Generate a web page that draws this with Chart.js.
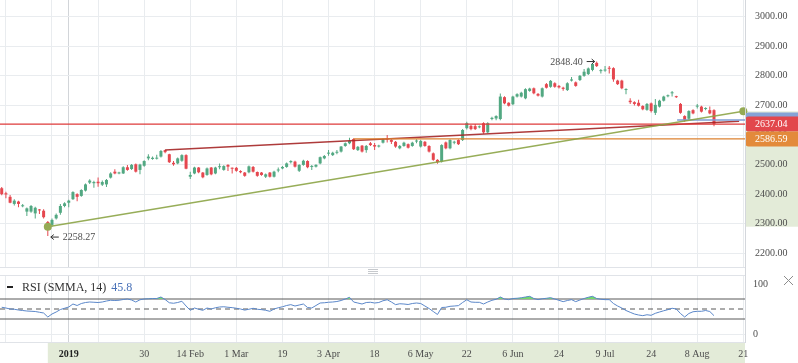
<!DOCTYPE html>
<html>
<head>
<meta charset="utf-8">
<script src="https://cdn.jsdelivr.net/npm/chart.js@4.4.0/dist/chart.umd.min.js"></script>
<style>
  html, body { margin: 0; padding: 0; background: #fff; }
  body { width: 798px; height: 363px; position: relative; overflow: hidden; font-family: 'Liberation Serif', serif; }
  canvas { position: absolute; left: 0; }
  #main { top: 0; }
  #rsi { top: 275px; }
  .hline { position: absolute; left: 0; width: 745px; height: 1px; background: #e0e3e8; z-index: 2; }
  .vsep { position: absolute; left: 745px; top: 0; width: 1px; height: 342px; background: #d4d7dc; z-index: 2; }
  .grip { position: absolute; left: 368px; width: 10px; height: 1px; background: #c6c9cd; }
  #legend { position: absolute; left: 7px; top: 280px; font-size: 12px; line-height: 14px; color: #333; white-space: nowrap; z-index: 3; }
  #legend .dash { display: inline-block; width: 6px; height: 2px; background: #222; vertical-align: middle; margin-right: 9px; position: relative; top: -1px; }
  #legend .val { color: #4a72b8; margin-left: 5px; }
  #close { position: absolute; left: 783px; top: 275px; }
</style>
</head>
<body>
<canvas id="main" width="798" height="267"></canvas>
<canvas id="rsi" width="798" height="88"></canvas>
<div class="hline" style="top:267px"></div>
<div class="hline" style="top:275px"></div>
<div class="hline" style="top:342px"></div>
<div class="vsep"></div>
<div class="grip" style="top:269px"></div>
<div class="grip" style="top:271px"></div>
<div class="grip" style="top:273px"></div>
<div id="legend"><span class="dash"></span>RSI (SMMA, 14)<span class="val">45.8</span></div>
<svg id="close" width="11" height="11"><path d="M1 1 L10 10 M10 1 L1 10" stroke="#8c8c8c" stroke-width="1"/></svg>
<script>
// daily candles, one per trading day (index 0 = first visible bar)
const opens = [2420,2403,2391,2367,2375,2359,2341,2341,2335,2348,2344,2306,2296,2318,2337,2360,2371,2383,2400,2394,
  2412,2439,2437,2442,2432,2433,2456,2476,2470,2470,2491,2485,2501,2482,2496,2521,2519,2520,2527,2549,
  2535,2506,2504,2513,2532,2459,2470,2490,2473,2465,2490,2470,2491,2482,2499,2489,2489,2478,2473,2474,
  2492,2475,2473,2459,2473,2459,2480,2487,2492,2508,2510,2479,2499,2512,2492,2493,2504,2521,2537,2532,
  2540,2544,2563,2572,2586.59,2549,2564,2549,2572,2566,2561,2574,2588,2583,2577,2555,2563,2569,2563,2578,
  2561,2577,2563,2538,2516,2510,2575,2555,2574,2583,2583,2623,2631,2630,2626,2640,2609,2654,2656,2654,
  2728,2709,2704,2730,2730,2724,2749,2758,2739,2730,2772,2763,2775,2766,2760,2752,2784,2778,2786,2800,
  2806,2820,2844,2816,2818,2827,2826,2784,2784,2752,2716,2711,2709,2698,2685,2707,2675,2696,2716,2731,
  2741,2731,2705,2664,2655,2684,2696,2696,2688,2684,2684];
const highs = [2424,2408,2397,2383,2378,2367,2355,2363,2357,2350,2349,2309,2318,2335,2367,2373,2381,2410,2403,2417,
  2436,2450,2445,2456,2446,2451,2474,2484,2476,2494,2499,2502,2504,2503,2515,2535,2527,2533,2549,2550,
  2537,2512,2524,2535,2535,2476,2493,2492,2475,2490,2492,2493,2504,2498,2501,2490,2492,2481,2475,2497,
  2495,2477,2475,2470,2475,2479,2490,2495,2507,2515,2513,2501,2516,2515,2499,2501,2527,2532,2549,2543,
  2549,2563,2575,2591,2589,2563,2566,2566,2576,2573,2567,2588,2600,2586,2580,2566,2577,2571,2577,2586,
  2583,2580,2565,2541,2518,2569,2578,2586,2581,2586,2620,2645,2634,2637,2632,2643,2643,2662,2667,2740,
  2731,2711,2733,2741,2746,2758,2760,2761,2742,2761,2776,2786,2778,2769,2763,2778,2796,2781,2803,2823,
  2828,2843,2848.40,2823,2833,2833,2829,2787,2787,2758,2724,2714,2719,2701,2708,2710,2722,2719,2733,2737,
  2749,2733,2708,2667,2684,2687,2705,2699,2694,2696,2687];
const lows = [2396,2386,2369,2362,2356,2356,2326,2337,2318,2333,2318,2258.27,2290,2314,2330,2356,2356,2380,2376,2391,
  2409,2434,2422,2425,2428,2424,2453,2467,2467,2468,2479,2482,2473,2467,2493,2515,2516,2517,2524,2538,
  2505,2496,2501,2510,2484,2451,2467,2471,2454,2462,2464,2467,2484,2479,2478,2470,2476,2471,2459,2471,
  2473,2459,2462,2455,2456,2456,2474,2484,2489,2504,2490,2475,2496,2488,2482,2490,2501,2518,2530,2529,
  2535,2541,2560,2569,2549,2546,2541,2540,2563,2549,2558,2571,2575,2570,2557,2552,2560,2554,2560,2572,
  2558,2560,2541,2513,2503,2507,2552,2552,2569,2566,2580,2619,2616,2617,2623,2604,2606,2650,2650,2650,
  2704,2696,2701,2727,2727,2721,2746,2738,2730,2727,2757,2760,2760,2757,2750,2749,2781,2763,2783,2797,
  2803,2816,2830,2808,2814,2808,2780,2769,2755,2738,2705,2700,2696,2684,2682,2676,2668,2693,2713,2728,
  2730,2725,2672,2645,2652,2670,2690,2676,2684,2670,2630];
const closes = [2400,2399,2371,2378,2367,2361,2352,2360,2354,2345,2322,2290,2313,2330,2360,2369,2378,2407,2391,2414,
  2433,2446,2441,2437,2441,2448,2470,2470,2473,2491,2482,2499,2476,2500,2512,2527,2523,2523,2546,2542,
  2508,2501,2521,2532,2486,2465,2490,2474,2457,2487,2467,2490,2494,2495,2493,2486,2479,2474,2462,2494,
  2476,2462,2465,2467,2459,2476,2483,2492,2504,2512,2493,2499,2513,2491,2494,2499,2525,2529,2539,2540,
  2542,2561,2572,2580,2552,2560,2544,2563,2566,2561,2564,2585,2585,2577,2561,2563,2574,2557,2574,2581,
  2580,2563,2544,2516,2508,2566,2555,2583,2577,2569,2617,2640,2620,2620,2629,2609,2640,2658,2664,2730,
  2707,2699,2730,2738,2743,2755,2757,2741,2733,2758,2760,2783,2763,2761,2756,2775,2788,2766,2800,2814,
  2825,2840,2833,2819,2821,2824,2788,2772,2758,2755,2711,2705,2699,2687,2705,2681,2702,2716,2730,2734,
  2744,2728,2675,2651,2681,2673,2699,2679,2691,2673,2637.04];

// RSI (SMMA, 14) per bar
const rsiValues = [53.5,52,50,49.5,48,47,46,45.5,45,43.5,42,34,40,44,49,51.5,54,60,57,61,
  63,64,63.5,63,64,66,67.5,67,67.5,69,70,68,64,68.5,70,70.5,71,71,74,69,
  62.5,61.5,63,65.5,56,47.4,52,49.5,47.4,52,50,52.5,54,54.5,53.5,52.7,51.5,50,47.8,49.5,
  51.4,49.5,48.7,47.5,45.4,50,52.5,54.5,57,58.7,56,58,60,53,52,57,62,62.5,63.5,64,
  65,67,70,73.4,64,62,60,63,63.5,62,63,66.5,68.5,64,58.7,60.5,60,59,61,62,
  61,56,51,45,39,53,53.5,55.4,56,56.7,63,68.5,64,63.4,63.4,60,64,67.4,69.5,74,
  70,68.7,71,71.5,72.5,74,75.4,71,68.7,70.5,71.4,72.7,70,67.4,64.7,67,68.7,64.7,68,71,
  73.5,75.4,71,69.5,68.7,68.7,61,56,52,47,43.4,40,38,36.7,38.5,37.4,41.4,44,46.5,48.7,
  51.5,50,41,34,41,44.5,45.4,45.4,47,45,36.7];
const rsiUpper = 70, rsiMid = 50, rsiLower = 30;

// time axis: bar indexes of grid lines and labels
const gridIndex = [1,12,23,34,45,56,67,78,89,100,111,122,133,144,155,166,177];
const yearIndex = 16;
const labelIndex = [16,34,45,56,67,78,89,100,111,122,133,144,155,166,177];
const labelText = ['2019','30','14 Feb','1 Mar','19','3 Apr','18','6 May','22','6 Jun','24','9 Jul','24','8 Aug','21'];
const priceTicks = [2200,2300,2400,2500,2600,2700,2800,2900,3000];
const rsiTicks = [0,100];

// drawings
const lastPrice = 2637.04;
const levelPrice = 2586.59, levelStart = 84;
const bluePrice = 2650.7, blueStart = 161.2;
const redTrendX = [39, 176], redTrendY = [2549.3, 2646.3];
const oliveTrendX = [11, 177], oliveTrendY = [2289.9, 2680.1];
const highIndex = 142, highValue = 2848.40;
const lowIndex = 11, lowValue = 2258.27;

const xMin = -0.41, xMax = 177.4;
const AXIS_WIDTH = 53;
const UP = '#52a882', DOWN = '#e5474f';
const GRID = '#e9ecef', YEAR_GRID = '#d2d5d9';
const FONT = "'Liberation Serif', serif";
const TEXT = '#4d4d4d';

Chart.defaults.font.family = FONT;

function candleColor(i) {
  return closes[i] >= opens[i] ? UP : DOWN;
}

const allXTicks = [...new Set([...gridIndex, yearIndex])].sort((a, b) => a - b);

function xGridColor(c) {
  return c.tick && c.tick.value === yearIndex ? YEAR_GRID : GRID;
}

function hSeg(x0, x1, y) {
  return [{ x: x0, y }, { x: x1, y }];
}

function roundLeftRect(ctx, x, y, w, h, r) {
  ctx.beginPath();
  ctx.moveTo(x + r, y);
  ctx.lineTo(x + w, y);
  ctx.lineTo(x + w, y + h);
  ctx.lineTo(x + r, y + h);
  ctx.arcTo(x, y + h, x, y + h - r, r);
  ctx.lineTo(x, y + r);
  ctx.arcTo(x, y, x + r, y, r);
  ctx.closePath();
}

const mainDecor = {
  id: 'mainDecor',
  beforeDraw(chart) {
    // range of the selected trend line, shown on the price axis
    const { ctx, chartArea, scales: { y } } = chart;
    const top = y.getPixelForValue(oliveTrendY[1]);
    const bottom = y.getPixelForValue(oliveTrendY[0]);
    ctx.save();
    ctx.fillStyle = '#e3ebd8';
    ctx.fillRect(chartArea.right + 1, top, chart.width - chartArea.right, bottom - top);
    ctx.restore();
  },
  afterDatasetsDraw(chart) {
    const { ctx, scales: { x, y } } = chart;
    ctx.save();
    ctx.font = '10px ' + FONT;
    ctx.textBaseline = 'middle';
    ctx.strokeStyle = '#333';
    ctx.lineWidth = 1;

    // high marker
    const hx = x.getPixelForValue(highIndex), hy = y.getPixelForValue(highValue);
    ctx.fillStyle = TEXT;
    ctx.textAlign = 'right';
    ctx.fillText(highValue.toFixed(2), hx - 14, hy + 0.5);
    ctx.beginPath();
    ctx.moveTo(hx - 10, hy); ctx.lineTo(hx - 2, hy);
    ctx.moveTo(hx - 5, hy - 2.5); ctx.lineTo(hx - 2, hy); ctx.lineTo(hx - 5, hy + 2.5);
    ctx.stroke();

    // low marker
    const lx = x.getPixelForValue(lowIndex), ly = y.getPixelForValue(lowValue) + 1;
    ctx.textAlign = 'left';
    ctx.fillText(lowValue.toFixed(2), lx + 15, ly + 0.5);
    ctx.beginPath();
    ctx.moveTo(lx + 3, ly); ctx.lineTo(lx + 11, ly);
    ctx.moveTo(lx + 6, ly - 2.5); ctx.lineTo(lx + 3, ly); ctx.lineTo(lx + 6, ly + 2.5);
    ctx.stroke();
    ctx.restore();
  },
  afterDraw(chart) {
    // price labels on the axis
    const { ctx, chartArea, scales: { y } } = chart;
    const left = chartArea.right + 0.5;
    const w = chart.width - left;
    const h = 15;
    ctx.save();
    ctx.font = '10px ' + FONT;
    ctx.textBaseline = 'middle';
    ctx.textAlign = 'left';
    [[bluePrice, '#86a3d6', ''], [lastPrice, '#e2474c', lastPrice.toFixed(2)], [levelPrice, '#e38a3b', levelPrice.toFixed(2)]]
      .forEach(([p, color, label]) => {
        const cy = y.getPixelForValue(p);
        ctx.fillStyle = color;
        roundLeftRect(ctx, left, cy - h / 2, w, h, 3);
        ctx.fill();
        if (label) {
          ctx.fillStyle = '#fff';
          ctx.fillText(label, chartArea.right + 10, cy + 0.5);
        }
      });
    ctx.restore();
  }
};

new Chart(document.getElementById('main'), {
  type: 'bar',
  data: {
    datasets: [
      { type: 'line', data: hSeg(xMin, xMax, lastPrice), borderColor: '#de3a3a', borderWidth: 1.3, pointRadius: 0, order: 1 },
      { type: 'line', data: hSeg(levelStart, xMax, levelPrice), borderColor: '#dc8230', borderWidth: 1.2, pointRadius: 0, order: 1 },
      { type: 'line', data: hSeg(blueStart, xMax, bluePrice), borderColor: '#7d9dd4', borderWidth: 1.5, pointRadius: 0, order: 1 },
      { type: 'line', data: redTrendX.map((v, i) => ({ x: v, y: redTrendY[i] })), borderColor: 'rgba(165,38,38,0.9)', borderWidth: 1.5, pointRadius: 0, order: 1 },
      { type: 'line', data: oliveTrendX.map((v, i) => ({ x: v, y: oliveTrendY[i] })), borderColor: 'rgba(140,164,70,0.9)', borderWidth: 1.5,
        pointRadius: 4, pointBackgroundColor: '#95aa55', pointBorderWidth: 0, clip: 8, order: 0 },
      { label: 'wick', data: opens.map((o, i) => ({ x: i, y: [lows[i], highs[i]] })),
        backgroundColor: (c) => candleColor(c.dataIndex), barThickness: 1, grouped: false, borderWidth: 0, inflateAmount: 0, order: 5 },
      { label: 'body', data: opens.map((o, i) => ({ x: i, y: [o, closes[i]] })),
        backgroundColor: (c) => candleColor(c.dataIndex), barThickness: 3, minBarLength: 1, grouped: false, borderWidth: 0, inflateAmount: 0, order: 4 }
    ]
  },
  options: {
    responsive: false,
    animation: false,
    devicePixelRatio: 1,
    events: [],
    layout: { padding: 0, autoPadding: false },
    plugins: { legend: { display: false }, tooltip: { enabled: false } },
    scales: {
      x: {
        type: 'linear', min: xMin, max: xMax, offset: false,
        afterBuildTicks: (s) => { s.ticks = allXTicks.map(v => ({ value: v })); },
        afterFit: (s) => { s.height = 0; s.paddingLeft = 0; s.paddingRight = 0; },
        grid: { color: xGridColor, drawTicks: false, offset: false },
        border: { display: false },
        ticks: { display: false }
      },
      y: {
        position: 'right', min: 2153.7, max: 3056.5,
        afterBuildTicks: (s) => { s.ticks = priceTicks.map(v => ({ value: v })); },
        afterFit: (s) => { s.width = AXIS_WIDTH; s.paddingTop = 0; s.paddingBottom = 0; },
        grid: { color: GRID, drawTicks: false },
        border: { color: '#d4d7dc' },
        ticks: { padding: 10, color: TEXT, font: { size: 10 }, callback: (v) => v.toFixed(2) }
      }
    }
  },
  plugins: [mainDecor]
});

const rsiDecor = {
  id: 'rsiDecor',
  beforeDraw(chart) {
    // selected trend line range on the time axis
    const { ctx, chartArea, scales: { x } } = chart;
    const x0 = x.getPixelForValue(oliveTrendX[0]);
    ctx.save();
    ctx.fillStyle = '#e3ebd8';
    ctx.fillRect(x0, chartArea.bottom + 1, chartArea.right - x0, chart.height - chartArea.bottom);
    ctx.restore();
  }
};

new Chart(document.getElementById('rsi'), {
  type: 'line',
  data: {
    datasets: [
      { data: rsiValues.map((v, i) => ({ x: i, y: v })), borderColor: '#5b87c9', borderWidth: 1, pointRadius: 0,
        fill: { target: { value: rsiUpper }, above: '#74d86c', below: 'rgba(0,0,0,0)' }, order: 1 },
      { data: hSeg(xMin, xMax, rsiUpper), borderColor: '#585858', borderWidth: 1, pointRadius: 0, order: 2 },
      { data: hSeg(xMin, xMax, rsiMid), borderColor: '#585858', borderWidth: 1, borderDash: [5, 4], pointRadius: 0, order: 2 },
      { data: hSeg(xMin, xMax, rsiLower), borderColor: '#585858', borderWidth: 1, pointRadius: 0, order: 2 }
    ]
  },
  options: {
    responsive: false,
    animation: false,
    devicePixelRatio: 1,
    events: [],
    layout: { padding: 0, autoPadding: false },
    plugins: { legend: { display: false }, tooltip: { enabled: false } },
    scales: {
      x: {
        type: 'linear', min: xMin, max: xMax, offset: false,
        afterBuildTicks: (s) => { s.ticks = allXTicks.map(v => ({ value: v })); },
        afterFit: (s) => { s.height = 21; s.paddingLeft = 0; s.paddingRight = 0; },
        grid: { color: xGridColor, drawTicks: false },
        border: { display: false },
        ticks: {
          autoSkip: false, maxRotation: 0, padding: 6,
          color: (c) => c.tick && c.tick.value === yearIndex ? '#222' : TEXT,
          font: (c) => ({ size: 10, weight: c.tick && c.tick.value === yearIndex ? 'bold' : 'normal' }),
          callback: (v) => { const k = labelIndex.indexOf(v); return k >= 0 ? labelText[k] : ''; }
        }
      },
      y: {
        position: 'right', min: -16, max: 118,
        afterBuildTicks: (s) => { s.ticks = rsiTicks.map(v => ({ value: v })); },
        afterFit: (s) => { s.width = AXIS_WIDTH; s.paddingTop = 0; s.paddingBottom = 0; },
        grid: { color: (c) => c.tick && c.tick.value === 0 ? GRID : 'rgba(0,0,0,0)', drawTicks: false },
        border: { color: '#d4d7dc' },
        ticks: { padding: 8, color: TEXT, font: { size: 10 }, callback: (v) => String(v) }
      }
    }
  },
  plugins: [rsiDecor]
});
</script>
</body>
</html>
